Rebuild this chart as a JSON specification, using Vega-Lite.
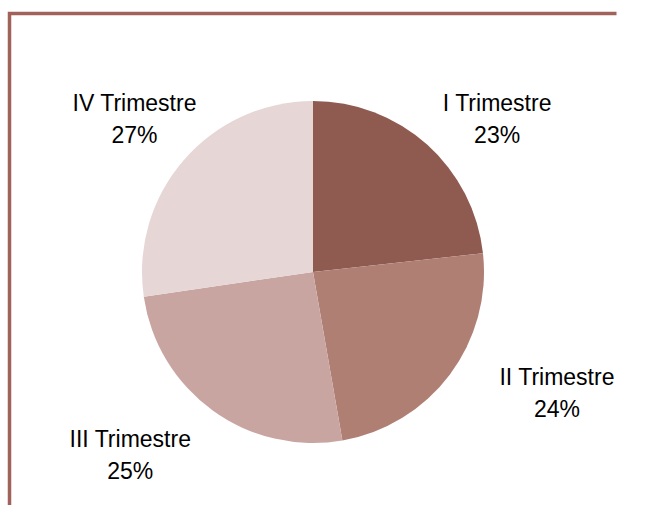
{
  "$schema": "https://vega.github.io/schema/vega-lite/v6.json",
  "autosize": {"type": "fit", "contains": "padding"},
  "width": 663,
  "height": 505,
  "padding": {"left": 9.5, "top": 13.5, "right": 46.5, "bottom": -25.5},
  "background": "white",
  "view": {"stroke": "#A0625A", "strokeWidth": 3.5, "strokeDash": [607, 1124, 517]},
  "config": {
    "text": {"font": "Liberation Sans"}
  },
  "data": {
    "values": [
      {"q": "I Trimestre", "value": 23.25, "order": 1},
      {"q": "II Trimestre", "value": 24.0, "order": 2},
      {"q": "III  Trimestre", "value": 25.45, "order": 3},
      {"q": "IV Trimestre", "value": 27.3, "order": 4}
    ]
  },
  "encoding": {
    "theta": {"field": "value", "type": "quantitative", "stack": true},
    "order": {"field": "order", "type": "quantitative"}
  },
  "layer": [
    {
      "mark": {"type": "arc", "outerRadius": 171},
      "encoding": {
        "color": {
          "field": "q",
          "type": "nominal",
          "sort": ["I Trimestre", "II Trimestre", "III  Trimestre", "IV Trimestre"],
          "scale": {"range": ["#8F5A50", "#B07F74", "#C9A5A1", "#E6D6D6"]},
          "legend": null
        }
      }
    },
    {
      "transform": [
        {"calculate": "datum.q + '\\n' + format(datum.value, '.0f') + '%'", "as": "lab"}
      ],
      "mark": {
        "type": "text",
        "radius": 240,
        "fontSize": 23,
        "lineHeight": 32,
        "lineBreak": "\n",
        "align": "center",
        "baseline": "middle",
        "color": "#000000",
        "dx": {"expr": "datum.order == 1 ? 24 : datum.order == 2 ? 52 : datum.order == 3 ? -42 : 3"},
        "dy": {"expr": "datum.order == 1 ? 11 : datum.order == 2 ? -38 : datum.order == 3 ? -26 : -11"}
      },
      "encoding": {
        "text": {"field": "lab", "type": "nominal"}
      }
    }
  ]
}
